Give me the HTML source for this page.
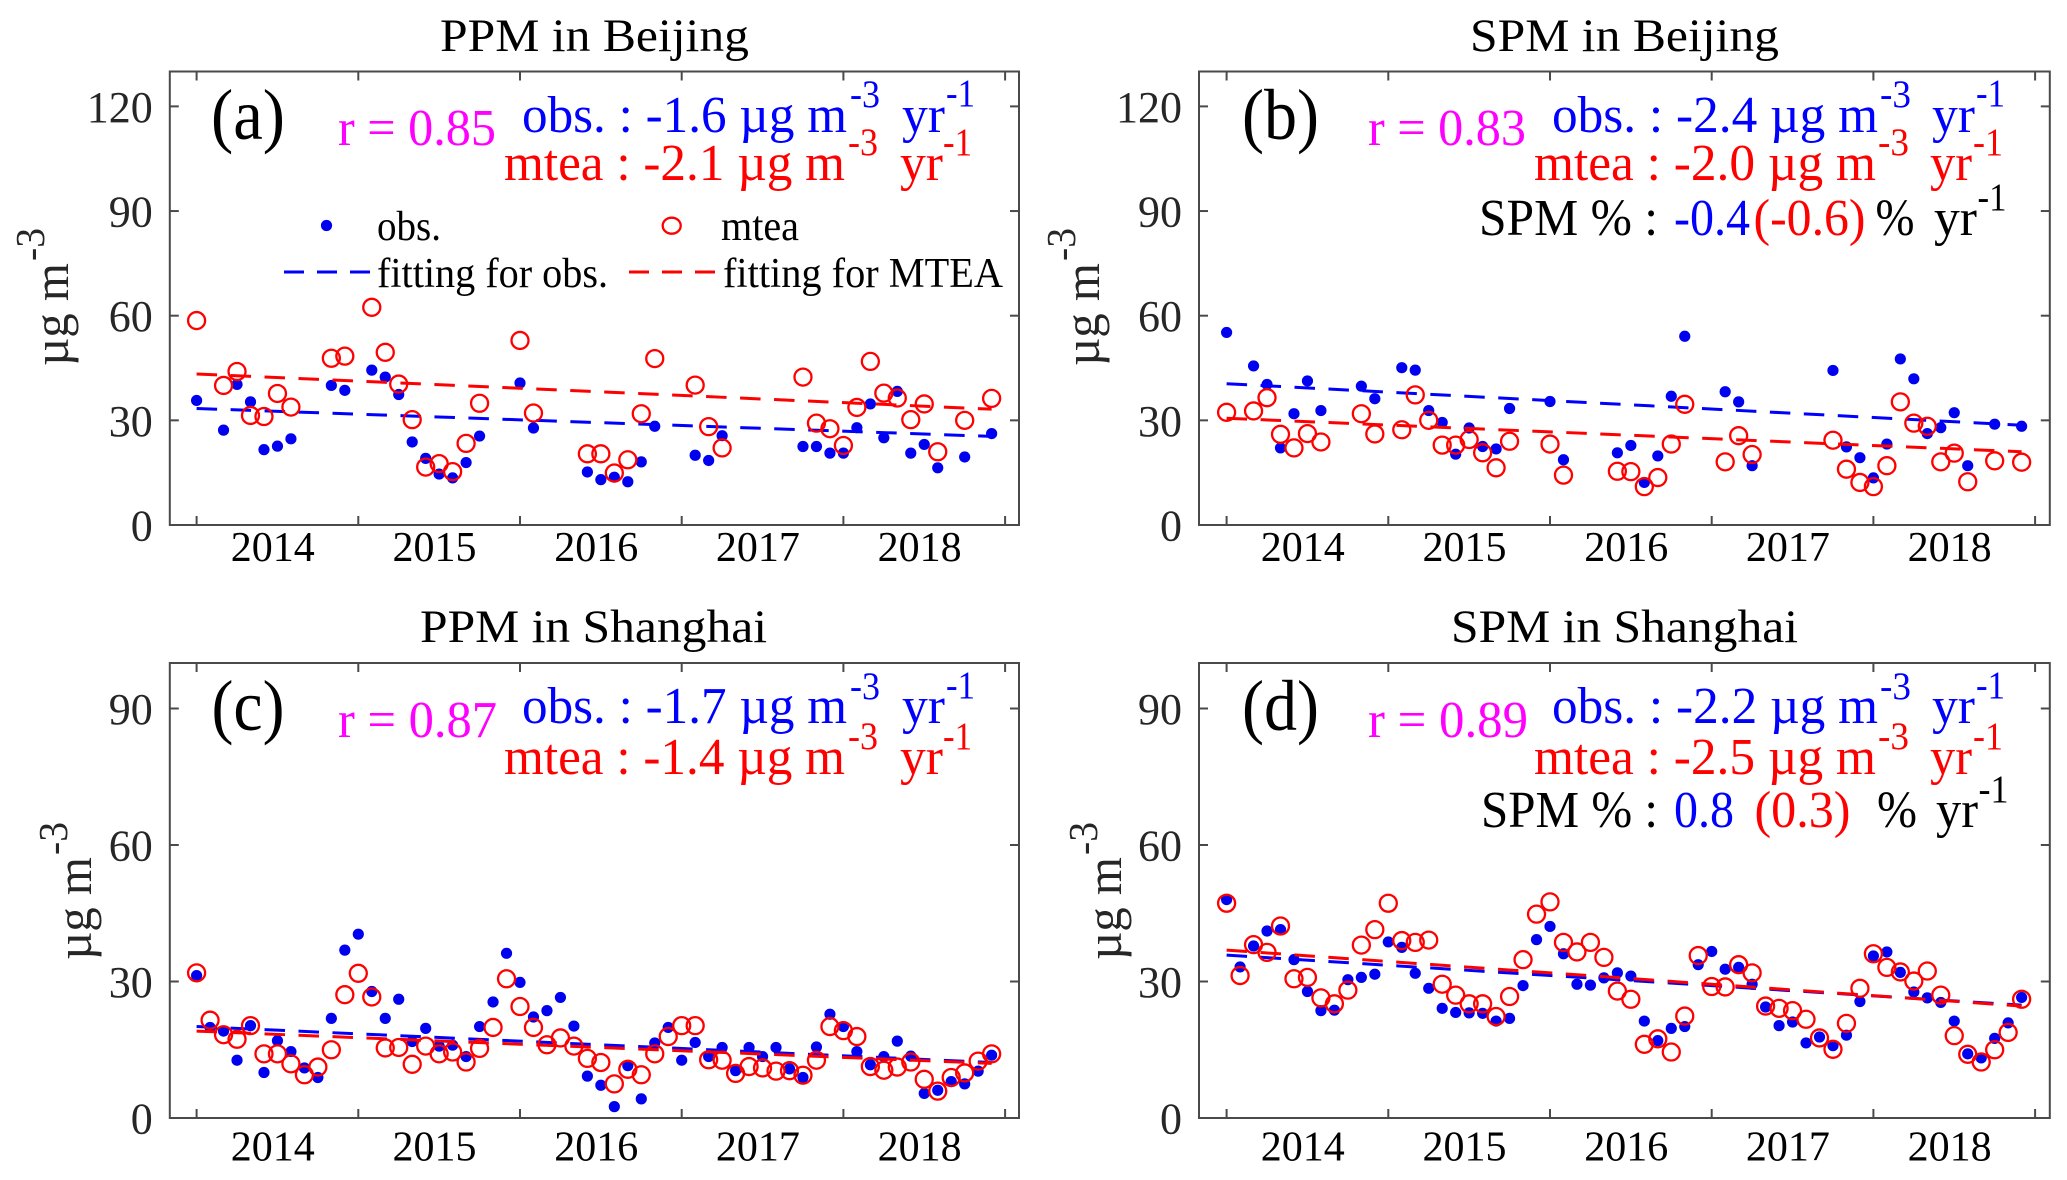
<!DOCTYPE html>
<html lang="en">
<head>
<meta charset="utf-8">
<title>PPM and SPM in Beijing and Shanghai</title>
<style>
html,body{margin:0;padding:0;background:#fff;width:2067px;height:1180px;overflow:hidden}
svg{display:block}
text{font-family:"Liberation Serif","DejaVu Serif",serif;fill:#000}
.blue{fill:#0000ff}.red{fill:#ff0000}.mag{fill:#ff00ff}
.t{font-size:47px}.big{font-size:72px}.r{font-size:52px}.l{font-size:52px}.s{font-size:39px}.lg{font-size:42px}.yl{font-size:50px;fill:#262626}.ys{font-size:41px;fill:#262626}
</style>
</head>
<body>
<svg id="figure" width="2067" height="1180" viewBox="0 0 2067 1180" xmlns="http://www.w3.org/2000/svg">
<rect width="2067" height="1180" fill="#fff"/>
<g id="marks"></g>

<!-- Panel a -->
<text class="t" x="440" y="51" textLength="309" lengthAdjust="spacingAndGlyphs">PPM in Beijing</text>
<text class="big" x="211" y="139" textLength="74" lengthAdjust="spacingAndGlyphs">(a)</text>
<text class="r mag" x="338" y="145" textLength="158" lengthAdjust="spacingAndGlyphs">r = 0.85</text>
<text class="l blue" x="522" y="132" textLength="325" lengthAdjust="spacingAndGlyphs">obs. : -1.6 µg m</text>
<text class="s blue" x="850" y="107" textLength="30" lengthAdjust="spacingAndGlyphs">-3</text>
<text class="l blue" x="902" y="132" textLength="43" lengthAdjust="spacingAndGlyphs">yr</text>
<text class="s blue" x="946" y="106" textLength="29" lengthAdjust="spacingAndGlyphs">-1</text>
<text class="l red" x="504" y="180" textLength="341" lengthAdjust="spacingAndGlyphs">mtea : -2.1 µg m</text>
<text class="s red" x="848" y="155" textLength="30" lengthAdjust="spacingAndGlyphs">-3</text>
<text class="l red" x="900" y="180" textLength="43" lengthAdjust="spacingAndGlyphs">yr</text>
<text class="s red" x="943" y="155" textLength="29" lengthAdjust="spacingAndGlyphs">-1</text>
<g>
<text class="yl" transform="translate(68,366) rotate(-90)" textLength="103" lengthAdjust="spacingAndGlyphs">µg m</text>
<text class="ys" transform="translate(44,261) rotate(-90)" textLength="33" lengthAdjust="spacingAndGlyphs">-3</text>
</g>
<g>
<circle cx="326.5" cy="225.5" r="5.6" fill="#0000f0"/>
<text class="lg" x="377" y="240" textLength="64" lengthAdjust="spacingAndGlyphs">obs.</text>
<ellipse cx="671.7" cy="225.7" rx="9" ry="8" fill="none" stroke="#ff0000" stroke-width="2.3"/>
<text class="lg" x="721" y="240" textLength="78" lengthAdjust="spacingAndGlyphs">mtea</text>
<line x1="284" y1="272" x2="370" y2="272" stroke="#0000ff" stroke-width="3" stroke-dasharray="20 13"/>
<text class="lg" x="377" y="287" textLength="231" lengthAdjust="spacingAndGlyphs">fitting for obs.</text>
<line x1="629" y1="272" x2="715" y2="272" stroke="#ff0000" stroke-width="3" stroke-dasharray="20 13"/>
<text class="lg" x="723" y="287" textLength="280" lengthAdjust="spacingAndGlyphs">fitting for MTEA</text>
</g>

<!-- Panel b -->
<text class="t" x="1470" y="51" textLength="309" lengthAdjust="spacingAndGlyphs">SPM in Beijing</text>
<text class="big" x="1242" y="139" textLength="77" lengthAdjust="spacingAndGlyphs">(b)</text>
<text class="r mag" x="1368" y="145" textLength="158" lengthAdjust="spacingAndGlyphs">r = 0.83</text>
<text class="l blue" x="1552" y="132" textLength="326" lengthAdjust="spacingAndGlyphs">obs. : -2.4 µg m</text>
<text class="s blue" x="1880" y="107" textLength="31" lengthAdjust="spacingAndGlyphs">-3</text>
<text class="l blue" x="1932" y="132" textLength="43" lengthAdjust="spacingAndGlyphs">yr</text>
<text class="s blue" x="1976" y="106" textLength="29" lengthAdjust="spacingAndGlyphs">-1</text>
<text class="l red" x="1534" y="180" textLength="342" lengthAdjust="spacingAndGlyphs">mtea : -2.0 µg m</text>
<text class="s red" x="1878" y="155" textLength="31" lengthAdjust="spacingAndGlyphs">-3</text>
<text class="l red" x="1930" y="180" textLength="42" lengthAdjust="spacingAndGlyphs">yr</text>
<text class="s red" x="1973" y="155" textLength="30" lengthAdjust="spacingAndGlyphs">-1</text>
<text class="l" x="1479" y="235" textLength="179" lengthAdjust="spacingAndGlyphs">SPM % :</text>
<text class="l blue" x="1674" y="235" textLength="76" lengthAdjust="spacingAndGlyphs">-0.4</text>
<text class="l red" x="1753.5" y="235" textLength="112" lengthAdjust="spacingAndGlyphs">(-0.6)</text>
<text class="l" x="1875.5" y="235" textLength="39" lengthAdjust="spacingAndGlyphs">%</text>
<text class="l" x="1934" y="235" textLength="43" lengthAdjust="spacingAndGlyphs">yr</text>
<text class="s" x="1977.5" y="210" textLength="29" lengthAdjust="spacingAndGlyphs">-1</text>
<g>
<text class="yl" transform="translate(1099,366) rotate(-90)" textLength="103" lengthAdjust="spacingAndGlyphs">µg m</text>
<text class="ys" transform="translate(1075,261) rotate(-90)" textLength="33" lengthAdjust="spacingAndGlyphs">-3</text>
</g>

<!-- Panel c -->
<text class="t" x="420" y="642" textLength="347" lengthAdjust="spacingAndGlyphs">PPM in Shanghai</text>
<text class="big" x="211.5" y="730" textLength="73" lengthAdjust="spacingAndGlyphs">(c)</text>
<text class="r mag" x="338" y="737" textLength="159" lengthAdjust="spacingAndGlyphs">r = 0.87</text>
<text class="l blue" x="522" y="723" textLength="325" lengthAdjust="spacingAndGlyphs">obs. : -1.7 µg m</text>
<text class="s blue" x="850" y="699" textLength="30" lengthAdjust="spacingAndGlyphs">-3</text>
<text class="l blue" x="902" y="723" textLength="43" lengthAdjust="spacingAndGlyphs">yr</text>
<text class="s blue" x="946" y="698" textLength="29" lengthAdjust="spacingAndGlyphs">-1</text>
<text class="l red" x="504" y="774" textLength="341" lengthAdjust="spacingAndGlyphs">mtea : -1.4 µg m</text>
<text class="s red" x="848" y="749" textLength="30" lengthAdjust="spacingAndGlyphs">-3</text>
<text class="l red" x="900" y="774" textLength="43" lengthAdjust="spacingAndGlyphs">yr</text>
<text class="s red" x="943" y="749" textLength="29" lengthAdjust="spacingAndGlyphs">-1</text>
<g>
<text class="yl" transform="translate(91,960) rotate(-90)" textLength="103" lengthAdjust="spacingAndGlyphs">µg m</text>
<text class="ys" transform="translate(67,855) rotate(-90)" textLength="33" lengthAdjust="spacingAndGlyphs">-3</text>
</g>

<!-- Panel d -->
<text class="t" x="1451" y="642" textLength="347" lengthAdjust="spacingAndGlyphs">SPM in Shanghai</text>
<text class="big" x="1242" y="730" textLength="77" lengthAdjust="spacingAndGlyphs">(d)</text>
<text class="r mag" x="1368" y="737" textLength="160" lengthAdjust="spacingAndGlyphs">r = 0.89</text>
<text class="l blue" x="1552" y="723" textLength="326" lengthAdjust="spacingAndGlyphs">obs. : -2.2 µg m</text>
<text class="s blue" x="1880" y="699" textLength="31" lengthAdjust="spacingAndGlyphs">-3</text>
<text class="l blue" x="1932" y="723" textLength="43" lengthAdjust="spacingAndGlyphs">yr</text>
<text class="s blue" x="1976" y="698" textLength="29" lengthAdjust="spacingAndGlyphs">-1</text>
<text class="l red" x="1534" y="774" textLength="342" lengthAdjust="spacingAndGlyphs">mtea : -2.5 µg m</text>
<text class="s red" x="1878" y="749" textLength="31" lengthAdjust="spacingAndGlyphs">-3</text>
<text class="l red" x="1930" y="774" textLength="42" lengthAdjust="spacingAndGlyphs">yr</text>
<text class="s red" x="1973" y="749" textLength="30" lengthAdjust="spacingAndGlyphs">-1</text>
<text class="l" x="1481" y="827" textLength="177" lengthAdjust="spacingAndGlyphs">SPM % :</text>
<text class="l blue" x="1674" y="827" textLength="60" lengthAdjust="spacingAndGlyphs">0.8</text>
<text class="l red" x="1754.5" y="827" textLength="96" lengthAdjust="spacingAndGlyphs">(0.3)</text>
<text class="l" x="1877" y="827" textLength="40" lengthAdjust="spacingAndGlyphs">%</text>
<text class="l" x="1936" y="827" textLength="42" lengthAdjust="spacingAndGlyphs">yr</text>
<text class="s" x="1978.5" y="802" textLength="30" lengthAdjust="spacingAndGlyphs">-1</text>
<g>
<text class="yl" transform="translate(1121,960) rotate(-90)" textLength="103" lengthAdjust="spacingAndGlyphs">µg m</text>
<text class="ys" transform="translate(1097,855) rotate(-90)" textLength="33" lengthAdjust="spacingAndGlyphs">-3</text>
</g>
</svg>

<script>
// Year labels and y tick labels
const yearLabels = ["2014", "2015", "2016", "2017", "2018"];
const yearTickMonths = [0, 12, 24, 36, 48, 60];
const beijingYTicks = [0, 30, 60, 90, 120];
const shanghaiYTicks = [0, 30, 60, 90];
const fitMonths = [0, 59];

// Panel (a) PPM in Beijing, monthly values starting Jan 2014
const ppmBeijingObs = [35.7,null,27.2,40.3,35.3,21.6,22.6,24.7,null,null,40,38.6,null,44.4,42.4,37.4,23.8,19.1,14.6,13.5,17.9,25.5,null,null,40.7,27.8,null,null,null,15.2,13,13.7,12.4,18.1,28.3,null,null,20,18.5,25.6,null,null,null,null,null,22.5,22.5,20.6,20.6,27.9,34.7,25,38.3,20.6,23.1,16.4,null,19.5,null,26.2];
const ppmBeijingMtea = [58.6,null,40,44,31.4,31.1,37.7,33.8,null,null,47.8,48.4,null,62.4,49.5,40.4,30.2,16.6,17.6,15.3,23.4,34.9,null,null,52.9,32.1,null,null,null,20.4,20.4,14.9,18.7,31.9,47.7,null,null,40.1,28.2,22.1,null,null,null,null,null,42.4,29.2,27.6,22.8,33.7,46.9,37.8,36.4,30.2,34.7,21,null,30,null,36.3];
const ppmBeijingObsFit = [33.4, 25.4];
const ppmBeijingMteaFit = [43.3, 33.2];

// Panel (b) SPM in Beijing
const spmBeijingObs = [55.2,null,45.6,40.3,22.1,31.9,41.3,32.8,null,null,39.8,36.2,null,45.1,44.4,32.8,29.4,20.3,27.8,22.5,21.8,33.4,null,null,35.4,18.7,null,null,null,20.7,22.8,12.2,19.8,36.9,54.1,null,null,38.2,35.3,17,null,null,null,null,null,44.3,22.4,19.3,13.5,23.2,47.6,41.9,26.2,27.9,32.2,17,null,28.9,null,28.3];
const spmBeijingMtea = [32.3,null,32.7,36.5,26,22.1,26.2,23.8,null,null,31.9,26.1,null,27.3,37.3,30,22.9,22.9,24.5,20.7,16.4,24,null,null,23.2,14.3,null,null,null,15.4,15.3,11,13.6,23.2,34.6,null,null,18.1,25.6,20.2,null,null,null,null,null,24.3,16,12.2,11,17,35.3,29.2,28.3,18.1,20.6,12.4,null,18.4,null,18];
const spmBeijingObsFit = [40.5, 28.6];
const spmBeijingMteaFit = [30.6, 21];

// Panel (c) PPM in Shanghai
const ppmShanghaiObs = [31.3,19.9,19.1,12.7,20.3,10,17,14.6,11,8.9,21.9,36.9,40.4,27.8,21.9,26.1,16.8,19.7,15.8,16,13.5,20.1,25.5,36.2,29.8,22.2,23.6,26.5,20.2,9.2,7.2,2.5,11.5,4.2,16.5,19.9,12.7,16.6,13.5,15.5,10.4,15.5,13.5,15.5,10.8,8.9,15.6,22.8,20.1,14.6,11.7,13.5,16.9,13.6,5.4,6.1,8,7.5,10.3,13.8];
const ppmShanghaiMtea = [31.9,21.5,18.3,17.3,20.3,14.1,14.1,11.9,9.5,11.2,15,27.1,31.8,26.6,15.4,15.5,11.8,15.8,14.1,14.5,12.3,15.3,19.9,30.6,24.5,19.9,16.1,17.6,15.8,13.1,12.2,7.5,10.7,9.5,14.1,17.9,20.3,20.3,12.8,12.7,9.8,11.3,11,10.3,10.4,9.4,12.7,20.1,19.2,17.9,11.3,10.5,11.2,12.3,8.5,5.9,8.9,9.9,12.5,14.1];
const ppmShanghaiObsFit = [20.1, 12.2];
const ppmShanghaiMteaFit = [19.1, 12];

// Panel (d) SPM in Shanghai
const spmShanghaiObs = [48,33.2,37.8,41.1,41.4,34.8,27.8,23.6,23.7,30.4,30.9,31.6,38.7,37.5,31.8,28.5,24.1,23.2,23.1,23,21.3,21.9,29.1,39.2,42.1,36.1,29.4,29.2,30.8,31.9,31.2,21.3,17,19.7,20.1,33.7,36.6,32.7,33.1,29.4,24.4,20.3,21.1,16.5,17.8,15.9,18.2,25.6,35.6,36.5,32,27.7,26.4,25.4,21.3,14.1,13.2,17.5,20.9,26.5];
const spmShanghaiMtea = [47.2,31.3,38.1,36.4,42.2,30.6,30.9,26.4,25.1,28.1,38,41.4,47.2,39,38.6,39.1,29.4,27,25.1,25.1,22.3,26.7,34.8,44.8,47.5,38.6,36.5,38.6,35.3,27.9,26.1,16.2,17.4,14.5,22.4,35.7,28.9,28.8,33.7,31.9,24.6,24.1,23.6,21.7,17.6,15.1,20.8,28.5,36.1,33.1,32.1,30.1,32.3,27,18.1,14,12.3,15,18.8,26.1];
const spmShanghaiObsFit = [35.8, 24.8];
const spmShanghaiMteaFit = [36.9, 24.6];

const SVGNS = "http://www.w3.org/2000/svg";
const MONTH_PX = 13.475;
const marksRoot = document.getElementById("marks");

function make(tag, attrs, parent) {
  const el = document.createElementNS(SVGNS, tag);
  for (const k in attrs) el.setAttribute(k, attrs[k]);
  parent.appendChild(el);
  return el;
}

function drawPanel(id, left, right, top, bottom, firstTickX, yMax, yTicks, obs, mtea, obsFit, mteaFit, labelY) {
  const xScale = function (m) { return firstTickX + m * MONTH_PX; };
  const yScale = function (v) { return bottom - (v / yMax) * (bottom - top); };

  const panel = make("g", {}, marksRoot);
  
  

  const pointsG = make("g", {}, panel);
  
  
  obs.forEach(function (v, m) {
    if (v === null) return;
    const dot = make("circle", { cx: xScale(m), cy: yScale(v), r: 5.6, fill: "#0000f0" }, pointsG);
    
    
  });

  const obsLine = make("line", { x1: xScale(fitMonths[0]), y1: yScale(obsFit[0]), x2: xScale(fitMonths[1]), y2: yScale(obsFit[1]), stroke: "#0000ff", "stroke-width": 3, "stroke-dasharray": "20.5 13.5" }, panel);
  
  

  const mteaLine = make("line", { x1: xScale(fitMonths[0]), y1: yScale(mteaFit[0]), x2: xScale(fitMonths[1]), y2: yScale(mteaFit[1]), stroke: "#ff0000", "stroke-width": 3, "stroke-dasharray": "20.5 13.5" }, panel);
  
  

  const circlesG = make("g", {}, panel);
  
  
  mtea.forEach(function (v, m) {
    if (v === null) return;
    const c = make("circle", { cx: xScale(m), cy: yScale(v), r: 8.5, fill: "none", stroke: "#ff0000", "stroke-width": 2.3 }, circlesG);
    
    
  });

  const axes = make("g", { stroke: "#4a4a4a", "stroke-width": 2, fill: "none" }, panel);
  
  
  make("rect", { x: left, y: top, width: right - left, height: bottom - top }, axes);
  yearTickMonths.forEach(function (m) {
    const x = xScale(m);
    make("line", { x1: x, y1: bottom, x2: x, y2: bottom - 9 }, axes);
    make("line", { x1: x, y1: top, x2: x, y2: top + 9 }, axes);
  });
  yTicks.forEach(function (v) {
    const y = yScale(v);
    make("line", { x1: left, y1: y, x2: left + 9, y2: y }, axes);
    make("line", { x1: right, y1: y, x2: right - 9, y2: y }, axes);
    const lab = make("text", { x: left - 17, y: y + 15.5, "text-anchor": "end", "font-size": 44, style: "fill:#262626" }, panel);
    lab.textContent = String(v);
    
    
  });
  yearLabels.forEach(function (label, i) {
    const lab = make("text", { x: xScale(yearTickMonths[i]) + 76.2, y: labelY, "text-anchor": "middle", "font-size": 42 }, panel);
    lab.textContent = label;
    
    
  });
}

drawPanel("a", 169.8, 1019, 71.5, 525, 196.6, 130, beijingYTicks, ppmBeijingObs, ppmBeijingMtea, ppmBeijingObsFit, ppmBeijingMteaFit, 561);
drawPanel("b", 1199, 2049.8, 71.5, 525, 1226.6, 130, beijingYTicks, spmBeijingObs, spmBeijingMtea, spmBeijingObsFit, spmBeijingMteaFit, 561);
drawPanel("c", 169.8, 1019, 663, 1118, 196.6, 100, shanghaiYTicks, ppmShanghaiObs, ppmShanghaiMtea, ppmShanghaiObsFit, ppmShanghaiMteaFit, 1160.5);
drawPanel("d", 1199, 2049.8, 663, 1118, 1226.6, 100, shanghaiYTicks, spmShanghaiObs, spmShanghaiMtea, spmShanghaiObsFit, spmShanghaiMteaFit, 1160.5);
</script>
</body>
</html>
